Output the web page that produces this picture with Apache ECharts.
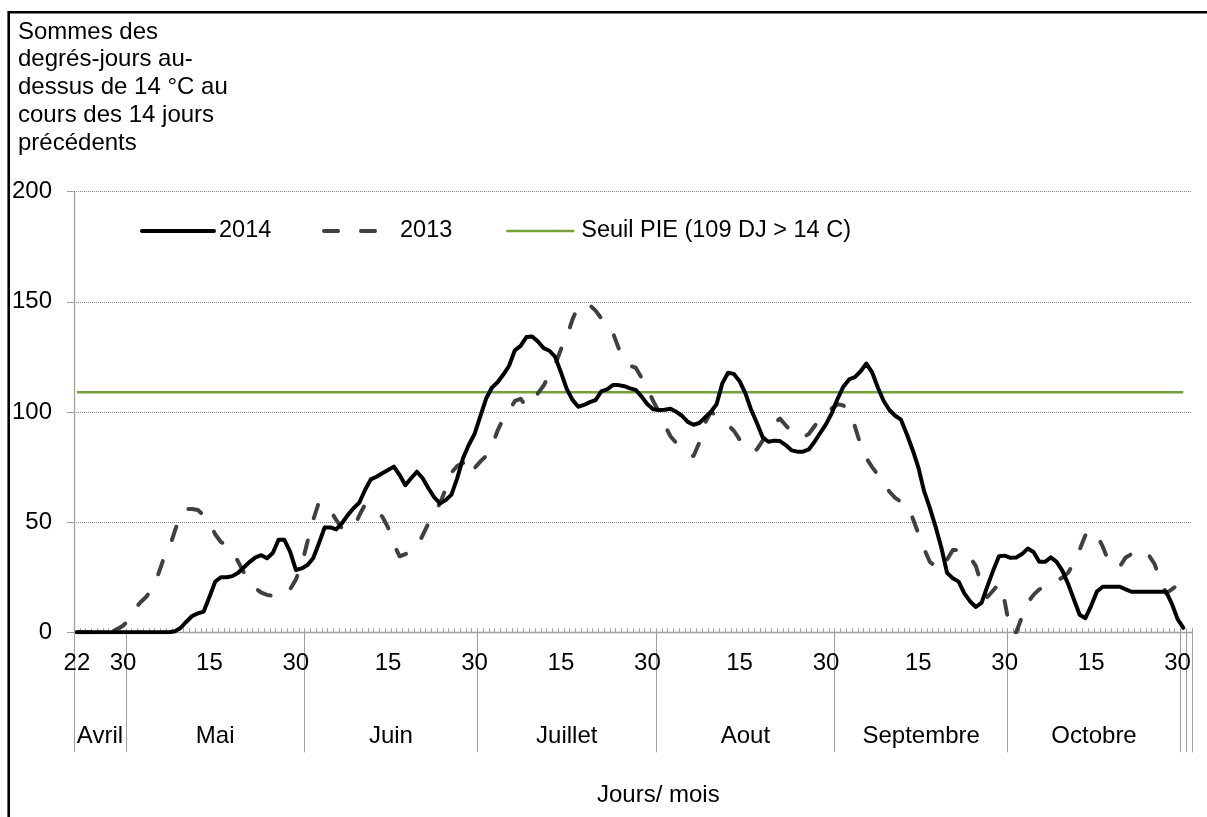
<!DOCTYPE html>
<html>
<head>
<meta charset="utf-8">
<title>Degrés-jours au-dessus de 14 °C</title>
<script src="https://cdn.jsdelivr.net/npm/echarts@6/dist/echarts.min.js"></script>
<style>
html, body { margin: 0; padding: 0; background: #fff; }
#chart { width: 1207px; height: 817px; }
</style>
</head>
<body>
<div id="chart"></div>
<script>
// groupes de l'axe des x (le dernier mois est coupé en deux jours isolés)
const monthNames = ['Avril', 'Mai', 'Juin', 'Juillet', 'Aout', 'Septembre', 'Octobre', '', ''];
const monthFirstDay = [22, 1, 1, 1, 1, 1, 1, 31, 1];
const monthLastDay = [30, 31, 30, 31, 31, 30, 30, 31, 1];
const labelDays = [15, 30];

const yTicks = [0, 50, 100, 150, 200];

const dj2014 = [
  0, 0, 0, 0, 0, 0, 0, 0, 0, 0, 0, 0, 0, 0, 0, 0, 0, 0.5, 2, 4.8,
  7.4, 8.6, 9.4, 16, 23, 25, 25, 25.5, 27, 29.5, 32, 34, 35, 33.6, 36, 42, 42, 36.6, 28.3, 29,
  30.5, 33.6, 40.4, 47.6, 47.6, 46.7, 49.5, 53.2, 56.3, 58.8, 64.6, 69.4, 70.6, 72.2, 73.7, 75.2, 71.4, 66.8, 69.9, 72.9,
  69.9, 65.4, 61.3, 58.5, 60, 62.5, 70, 79, 85, 90, 98, 106, 111, 113.5, 117, 121, 128, 130, 134, 134.3,
  132, 129, 127.8, 125, 118, 110.5, 105.5, 102.4, 103.2, 104.5, 105.4, 109.4, 110.3, 112.2, 112.2, 111.7, 110.7, 110, 107, 103.5,
  101.2, 100.9, 101, 101.5, 100.1, 98.3, 95.5, 94.2, 95, 97.5, 100, 103.5, 113, 117.8, 117.3, 114, 108.5, 101, 95, 88.5,
  86.5, 87, 86.8, 85, 82.6, 82, 82, 83, 86.5, 90.5, 94.5, 99.5, 106, 111.5, 114.8, 115.8, 118.5, 122, 118, 111,
  105, 100.9, 98.3, 96.5, 90, 83, 75, 64.2, 56.5, 48, 38.5, 27, 24.5, 23, 17.7, 14, 11.5, 13.5, 21, 28,
  34.5, 34.8, 33.8, 34, 35.5, 38, 36.5, 32, 32, 34, 32, 28, 22, 15, 8, 6.4, 12, 18.5, 20.7, 20.7,
  20.7, 20.7, 19.5, 18.4, 18.4, 18.4, 18.4, 18.4, 18.4, 18.4, 13, 6, 2
];

const dj2013 = [
  0, 0, 0, 0, 0, 0, 0, 1.5, 3, 5.5, 10.5, 13.5, 16, 19.5, 25.5, 33, 38, 46, 53.5, 56,
  56, 55.5, 53, 50, 44.5, 41, 39.5, 36.5, 32, 27, 23.7, 20, 18, 17, 16.5, 16.2, 17.5, 19.5, 24, 30.5,
  41, 51, 59, 57.5, 55.3, 51, 47.2, 47.2, 47.2, 53, 58, 57.3, 55, 52.5, 47.5, 40, 34.5, 35.5, 36.5, 39,
  44, 49.5, 54.5, 58.5, 65, 72.5, 75.5, 77, 71.5, 74.5, 77.5, 80, 84.5, 91.5, 97, 100.5, 105, 106, 102.5, 105,
  108.5, 112, 117, 121.5, 128.5, 134, 142, 148, 149, 148.5, 146, 142.5, 140.5, 136, 129, 123.5, 121, 120, 115.5, 110.5,
  105, 100, 94, 89, 86, 83.5, 81, 80, 86, 95, 100, 98.5, 96, 94, 91.5, 87.5, 84, 82, 83, 87,
  91, 95, 97, 94, 91, 89, 88.5, 90, 93.5, 97, 99.5, 101.6, 103.5, 103, 100, 93.5, 85, 79, 75, 71.5,
  68, 63.8, 61, 59.3, 58, 52, 45, 38, 32, 30, 28.3, 33, 37.4, 37.4, 37.4, 34, 30, 21.5, 16, 19,
  22, 14, 0, 0, 7, 13.5, 17, 19.5, 20.5, 21.8, 23.5, 24.8, 27, 31.5, 37.5, 44, 46.4, 44, 39, 32.5,
  29.5, 30, 34, 35.5, 37, 37.4, 35, 31, 24, 17.7, 19.5, 21.5, 24
];

const seuilPIE = 109;
const seuilName = 'Seuil PIE (109 DJ > 14 C)';

const font = "'Liberation Sans', Arial, Helvetica, sans-serif";
const axisGrey = '#9f9f9f';

// catégories jour par jour
const days = [];
const groupStart = [];
monthNames.forEach((name, m) => {
  groupStart.push(days.length);
  for (let d = monthFirstDay[m]; d <= monthLastDay[m]; d++) {
    days.push(m + '/' + d);
  }
});
const dayOf = (i) => +days[i].split('/')[1];

// second axe en demi-jours : traits de séparation et noms des mois
const halfPoints = [];
for (let k = 0; k <= days.length * 2; k++) halfPoints.push(String(k));
const boundaryIdx = groupStart.map(s => s * 2).concat([days.length * 2]);
const monthCenter = {};
monthNames.forEach((name, m) => {
  const len = monthLastDay[m] - monthFirstDay[m] + 1;
  if (name) monthCenter[groupStart[m] * 2 + len] = name;
});

const chart = echarts.init(document.getElementById('chart'));

const legendBase = {
  top: 219, padding: 0, itemHeight: 24, selectedMode: false,
  itemStyle: { opacity: 0, borderWidth: 0 }
};

const option = {
  animation: false,
  backgroundColor: '#fff',
  textStyle: { fontFamily: font },
  title: [
    {
      text: 'Sommes des\ndegrés-jours au-\ndessus de 14 °C au\ncours des 14 jours\nprécédents',
      left: 18, top: 18, padding: 0,
      textStyle: { fontSize: 24, lineHeight: 27.75, fontWeight: 'normal', color: '#000', fontFamily: font }
    },
    {
      text: 'Jours/ mois',
      left: 597, top: 783, padding: 0,
      textStyle: { fontSize: 24, fontWeight: 'normal', color: '#000', fontFamily: font }
    }
  ],
  legend: [
    Object.assign({}, legendBase, {
      data: ['2014'], left: 140, itemWidth: 72,
      lineStyle: { width: 4 },
      textStyle: { fontSize: 23.5, color: '#000', fontFamily: font }
    }),
    Object.assign({}, legendBase, {
      data: ['2013'], left: 322, itemWidth: 56,
      lineStyle: { width: 4 },
      textStyle: { fontSize: 23.5, color: '#000', fontFamily: font, padding: [0, 0, 0, 15] }
    }),
    Object.assign({}, legendBase, {
      data: [seuilName], left: 505, itemWidth: 68,
      lineStyle: { width: 2.5 },
      textStyle: { fontSize: 23.5, color: '#000', fontFamily: font, padding: [0, 0, 0, 2] }
    })
  ],
  grid: { left: 74, right: 15, top: 191.7, bottom: 184.7 },
  xAxis: [
    {
      type: 'category',
      data: days,
      position: 'bottom',
      boundaryGap: true,
      axisLine: { lineStyle: { color: axisGrey, width: 1.3 } },
      axisTick: { show: true, inside: true, length: 4, interval: 0, lineStyle: { color: axisGrey } },
      axisLabel: {
        margin: 19, fontSize: 24, color: '#000', fontFamily: font, hideOverlap: false,
        interval: (i) => i === 0 || labelDays.indexOf(dayOf(i)) >= 0,
        formatter: (v, i) => String(dayOf(i))
      },
      splitLine: { show: false }
    },
    {
      type: 'category',
      data: halfPoints,
      position: 'bottom',
      boundaryGap: false,
      axisLine: { show: false },
      axisTick: {
        show: true, inside: false, length: 120,
        interval: (k) => boundaryIdx.indexOf(k) >= 0,
        lineStyle: { color: axisGrey, width: 1 }
      },
      axisLabel: {
        margin: 92, fontSize: 24, color: '#000', fontFamily: font, hideOverlap: false,
        interval: (k) => monthCenter[k] !== undefined,
        formatter: (v, k) => monthCenter[k] || ''
      },
      splitLine: { show: false }
    }
  ],
  yAxis: {
    type: 'value',
    min: yTicks[0],
    max: yTicks[yTicks.length - 1],
    interval: yTicks[1] - yTicks[0],
    axisLine: { show: true, lineStyle: { color: axisGrey, width: 1.3 } },
    axisTick: { show: true, length: 7, lineStyle: { color: axisGrey } },
    axisLabel: { margin: 22, fontSize: 24, color: '#000', fontFamily: font },
    splitLine: { show: true, lineStyle: { type: 'dotted', color: '#8c8c8c', width: 1 } }
  },
  graphic: [
    {
      type: 'polyline',
      silent: true,
      shape: { points: [[8.7, 817], [8.7, 12.2], [1207, 12.2]] },
      style: { stroke: '#000', lineWidth: 2.6, fill: null }
    }
  ],
  series: [
    {
      name: seuilName,
      type: 'line',
      data: dj2014.map(() => seuilPIE),
      symbol: 'none',
      z: 2,
      itemStyle: { color: '#77a03a' },
      lineStyle: { color: '#77a03a', width: 2.5 }
    },
    {
      name: '2013',
      type: 'line',
      data: dj2013,
      symbol: 'none',
      z: 3,
      itemStyle: { color: '#404040' },
      lineStyle: { color: '#404040', width: 4, type: [14, 23], cap: 'round', join: 'round' }
    },
    {
      name: '2014',
      type: 'line',
      data: dj2014,
      symbol: 'none',
      z: 4,
      itemStyle: { color: '#000' },
      lineStyle: { color: '#000', width: 4, cap: 'round', join: 'round' }
    }
  ]
};

chart.setOption(option);
</script>
</body>
</html>
